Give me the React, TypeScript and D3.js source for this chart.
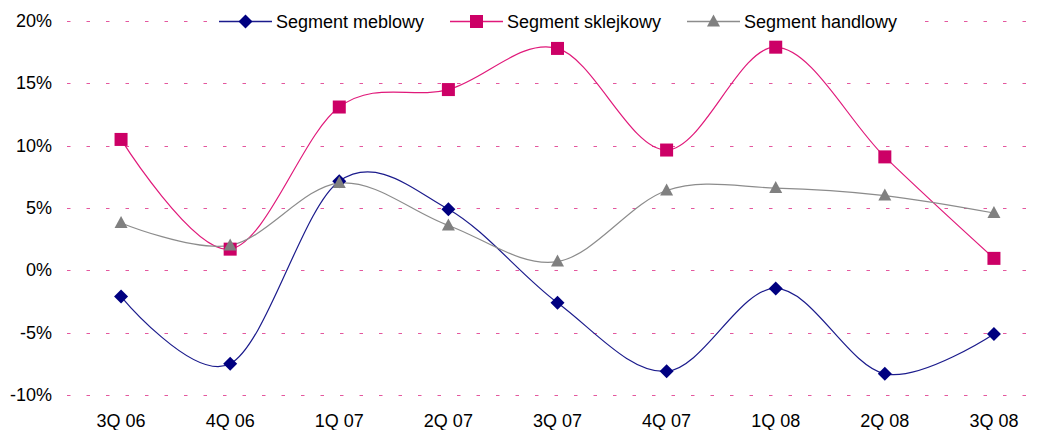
import React, { useEffect, useRef } from "react";
import * as d3 from "d3";

const categories: string[] = ["3Q 06", "4Q 06", "1Q 07", "2Q 07", "3Q 07", "4Q 07", "1Q 08", "2Q 08", "3Q 08"];
const meblowy: number[] = [-2.1, -7.5, 7.15, 4.9, -2.6, -8.1, -1.45, -8.3, -5.1];
const sklejkowy: number[] = [10.5, 1.7, 13.1, 14.5, 17.8, 9.65, 17.9, 9.1, 0.96];
const handlowy: number[] = [3.8, 2.0, 7.0, 3.6, 0.7, 6.4, 6.6, 6.0, 4.6];
const yTicks: number[] = [-10, -5, 0, 5, 10, 15, 20];
const seriesNames: string[] = ["Segment meblowy", "Segment sklejkowy", "Segment handlowy"];

const W = 1039;
const H = 430;
const FONT = "'Liberation Sans', Arial, sans-serif";

function App() {
  const ref = useRef<any>();

  useEffect(() => {
    const svg = d3.select(ref.current);
    svg.selectAll("*").remove();

    const x = d3.scaleBand().domain(categories).range([66.5, 1048.5]);
    const y = d3.scaleLinear().domain([-10, 20]).range([395, 21]);
    const cx = (c: string) => (x(c) as number) + x.bandwidth() / 2;

    // grid
    svg
      .append("g")
      .selectAll("line")
      .data(yTicks)
      .join("line")
      .attr("x1", 67)
      .attr("x2", 1032)
      .attr("y1", (d) => Math.round(y(d)) + 0.5)
      .attr("y2", (d) => Math.round(y(d)) + 0.5)
      .attr("stroke", "#E4579E")
      .attr("stroke-width", 1)
      .attr("stroke-dasharray", "3.5 16");

    // y labels
    svg
      .append("g")
      .selectAll("text")
      .data(yTicks)
      .join("text")
      .attr("x", 52)
      .attr("y", (d) => y(d) + 6)
      .attr("text-anchor", "end")
      .attr("font-family", FONT)
      .attr("font-size", 18)
      .attr("fill", "#000")
      .text((d) => `${d}%`);

    // x labels
    svg
      .append("g")
      .selectAll("text")
      .data(categories)
      .join("text")
      .attr("x", (d) => cx(d))
      .attr("y", 427)
      .attr("text-anchor", "middle")
      .attr("font-family", FONT)
      .attr("font-size", 18)
      .attr("fill", "#000")
      .text((d) => d);

    const line = d3
      .line<number>()
      .x((d, i) => cx(categories[i]))
      .y((d) => y(d))
      .curve(d3.curveCatmullRom.alpha(0));

    const series = [
      { name: seriesNames[0], values: meblowy, line: "#1B1B8C", fill: "#000080", shape: "diamond" },
      { name: seriesNames[1], values: sklejkowy, line: "#E0197A", fill: "#CC0066", shape: "square" },
      { name: seriesNames[2], values: handlowy, line: "#8C8C8C", fill: "#808080", shape: "triangle" },
    ];

    const marker = (g: any, shape: string, fill: string, px: number, py: number) => {
      if (shape === "diamond") {
        g.append("path")
          .attr("d", `M${px},${py - 7}L${px + 7},${py}L${px},${py + 7}L${px - 7},${py}Z`)
          .attr("fill", fill);
      } else if (shape === "square") {
        g.append("rect")
          .attr("x", px - 6.5)
          .attr("y", py - 6.5)
          .attr("width", 13)
          .attr("height", 13)
          .attr("fill", fill);
      } else {
        g.append("path")
          .attr("d", `M${px},${py - 7}L${px + 6.5},${py + 5}L${px - 6.5},${py + 5}Z`)
          .attr("fill", fill);
      }
    };

    series.forEach((s) => {
      svg
        .append("path")
        .datum(s.values)
        .attr("d", line)
        .attr("fill", "none")
        .attr("stroke", s.line)
        .attr("stroke-width", 1.2);
    });
    series.forEach((s) => {
      const g = svg.append("g");
      s.values.forEach((v, i) => marker(g, s.shape, s.fill, cx(categories[i]), y(v)));
    });

    // legend
    const lg = svg.append("g");
    lg.append("rect").attr("x", 210).attr("y", 8).attr("width", 708).attr("height", 26).attr("fill", "#fff");
    const legendX = [219, 450, 687];
    series.forEach((s, i) => {
      const lx = legendX[i];
      const ly = 21.5;
      lg.append("line")
        .attr("x1", lx)
        .attr("x2", lx + 53)
        .attr("y1", ly)
        .attr("y2", ly)
        .attr("stroke", s.line)
        .attr("stroke-width", 1.5);
      marker(lg, s.shape, s.fill, lx + 26.5, ly);
      lg.append("text")
        .attr("x", lx + 57)
        .attr("y", ly + 6)
        .attr("font-family", FONT)
        .attr("font-size", 18)
        .attr("fill", "#000")
        .text(s.name);
    });
  }, []);

  return (
    <div style={{ position: "absolute", left: 0, top: 0 }}>
      <svg ref={ref} width={W} height={H} style={{ display: "block", background: "#fff" }}></svg>
    </div>
  );
}

export default App;
